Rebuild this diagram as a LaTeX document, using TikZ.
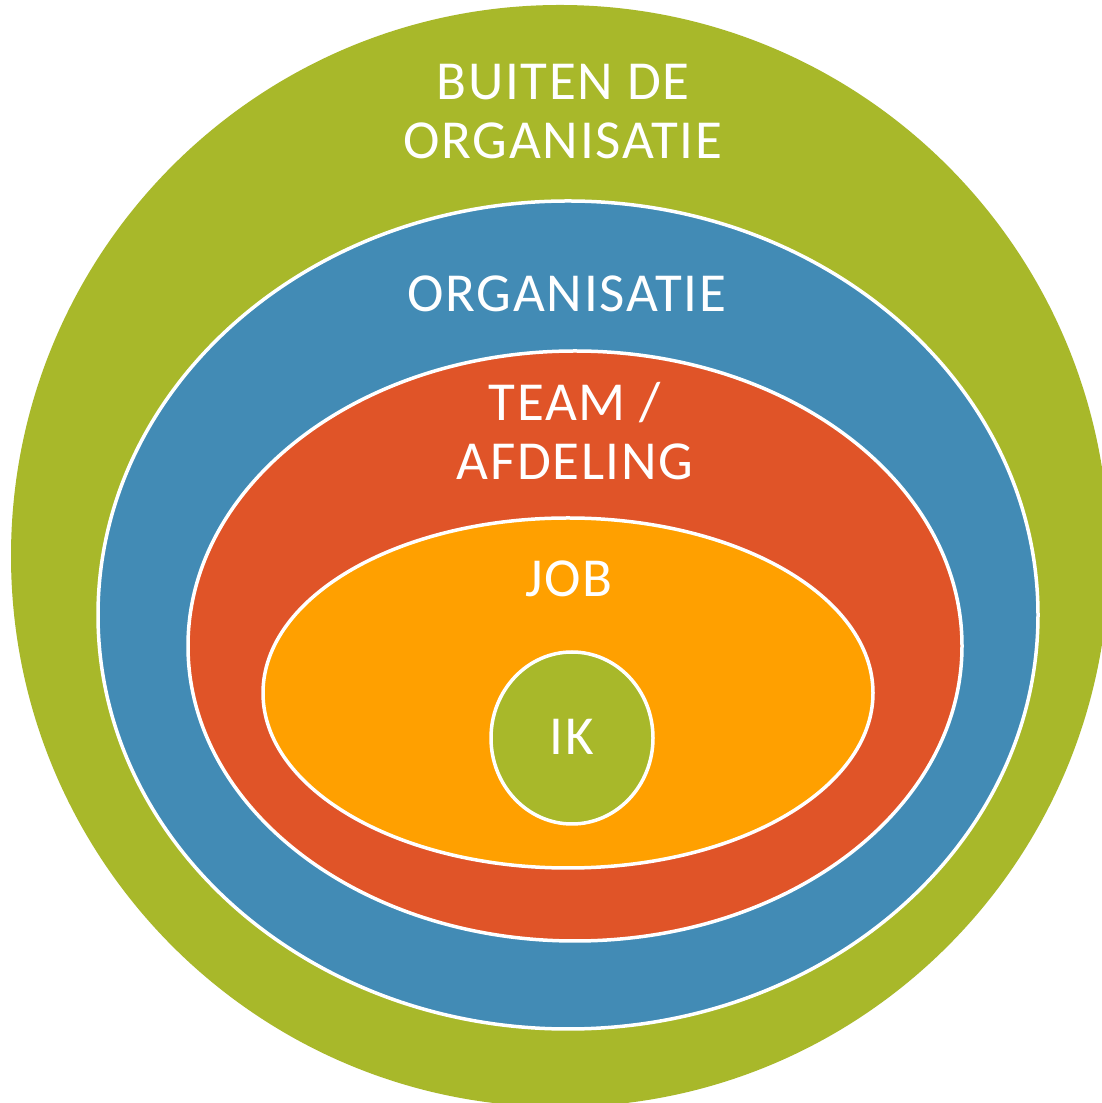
\documentclass[tikz,border=0pt]{standalone}
\usepackage{fontspec}
\setmainfont[LetterSpace=3]{Carlito}
\definecolor{cgreen}{HTML}{A8B82A}
\definecolor{cblue}{HTML}{428BB5}
\definecolor{cred}{HTML}{E05428}
\definecolor{corange}{HTML}{FFA000}
\begin{document}
\begin{tikzpicture}[x=1pt,y=1pt,
  ring/.style={draw=white,line width=3.5pt},
  lbl/.style={text=white,font=\fontsize{55}{59}\selectfont,align=center}]
\useasboundingbox (0,0) rectangle (1102,1103);
\clip (0,0) rectangle (1102,1103);
\fill[white] (0,0) rectangle (1102,1103);
\fill[cgreen] (560,547) ellipse[x radius=549,y radius=551];
\filldraw[ring,fill=cblue] (568,488) ellipse[x radius=470,y radius=414];
\filldraw[ring,fill=cred] (575,457) ellipse[x radius=387,y radius=295];
\filldraw[ring,fill=corange] (568,410) ellipse[x radius=305,y radius=175];
\filldraw[ring,fill=cgreen] (572,365) ellipse[x radius=81,y radius=86];
\node[lbl] (buiten) at (563,991) {BUITEN DE\\ORGANISATIE};
\node[lbl] (org) at (567,809) {ORGANISATIE};
\node[lbl] (team) at (575,672) {TEAM /\\AFDELING};
\node[lbl] (job) at (569,524) {JOB};
\node[lbl] (ik) at (572,366) {IK};
\end{tikzpicture}
\end{document}
